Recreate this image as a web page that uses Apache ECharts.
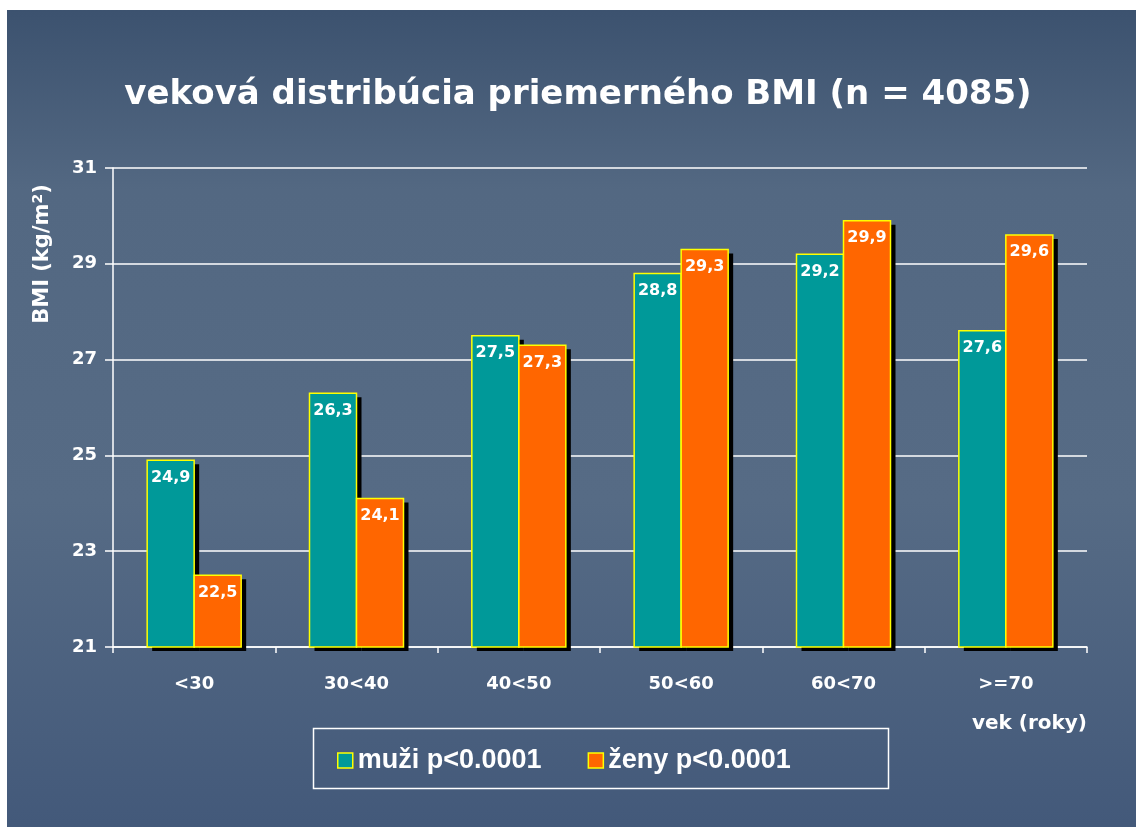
<!DOCTYPE html>
<html>
<head>
<meta charset="utf-8">
<script src="https://cdn.jsdelivr.net/npm/echarts@6/dist/echarts.min.js"></script>
<style>
  html, body { margin: 0; padding: 0; background: #ffffff; }
  #chart { position: absolute; left: 7px; top: 10px; width: 1129px; height: 817px; }
</style>
</head>
<body>
<div id="chart"></div>
<script>
// Age groups and mean BMI per sex
const categories = ['<30', '30<40', '40<50', '50<60', '60<70', '>=70'];
const muzi = [24.9, 26.3, 27.5, 28.8, 29.2, 27.6];
const zeny = [22.5, 24.1, 27.3, 29.3, 29.9, 29.6];
const yTicks = { min: 21, max: 31, interval: 2 };
const seriesNames = ['muži p<0.0001', 'ženy p<0.0001'];

const WIDE = '"DejaVu Sans", Verdana, sans-serif';
const ARIAL = '"Liberation Sans", Arial, sans-serif';
const BAR_W = 47;
const chart = echarts.init(document.getElementById('chart'), null, { renderer: 'canvas' });

const comma = v => v.toFixed(1).replace('.', ',');

// Bar with a hard black drop shadow and a yellow outline; the shadow is
// drawn as its own rect so the outline stays clean.
function barSeries(name, data, color, slot) {
  return {
    name: name,
    type: 'custom',
    data: data.map((v, i) => [i, v]),
    itemStyle: { color: color, borderColor: '#ffff00', borderWidth: 1.5 },
    encode: { x: 0, y: 1 },
    renderItem: function (params, api) {
      const idx = api.value(0);
      const val = api.value(1);
      const top = api.coord([idx, val]);
      const base = api.coord([idx, yTicks.min]);
      const x = top[0] + (slot === 0 ? -BAR_W : 0);
      const h = base[1] - top[1];
      return {
        type: 'group',
        children: [
          {
            type: 'rect',
            shape: { x: x + 5, y: top[1] + 4, width: BAR_W, height: h },
            style: { fill: '#000000' }
          },
          {
            type: 'rect',
            shape: { x: x, y: top[1], width: BAR_W, height: h },
            style: { fill: color, stroke: '#ffff00', lineWidth: 1.5 },
            textContent: {
              style: {
                text: comma(val),
                fill: '#ffffff',
                fontFamily: WIDE,
                fontWeight: 'bold',
                fontSize: 16
              }
            },
            textConfig: { position: 'insideTop', distance: 10 }
          }
        ]
      };
    }
  };
}

chart.setOption({
  animation: false,
  backgroundColor: {
    type: 'linear', x: 0, y: 0, x2: 0, y2: 1,
    colorStops: [
      { offset: 0, color: '#3c526f' },
      { offset: 0.22, color: '#536882' },
      { offset: 0.6, color: '#566b85' },
      { offset: 1, color: '#43597a' }
    ]
  },
  title: {
    text: 'veková distribúcia priemerného BMI (n = 4085)',
    left: 566,
    top: 63,
    textAlign: 'center',
    textStyle: {
      color: '#ffffff',
      fontFamily: WIDE,
      fontWeight: 'bold',
      fontSize: 34,
      textShadowColor: '#000000',
      textShadowOffsetX: 2,
      textShadowOffsetY: 2,
      textShadowBlur: 0
    }
  },
  grid: { left: 106, top: 158, width: 974, height: 479, containLabel: false },
  legend: {
    left: 325,
    top: 732,
    itemWidth: 15,
    itemHeight: 15,
    itemGap: 46,
    icon: 'rect',
    textStyle: { color: '#ffffff', fontFamily: ARIAL, fontWeight: 'bold', fontSize: 27 },
    itemStyle: { borderColor: '#ffff00', borderWidth: 1.5 },
    data: seriesNames
  },
  xAxis: {
    type: 'category',
    data: categories,
    axisLine: { lineStyle: { color: '#ffffff', width: 1.5 } },
    axisTick: { show: true, length: 6, lineStyle: { color: '#ffffff', width: 1.5 } },
    axisLabel: {
      color: '#ffffff', fontFamily: WIDE, fontWeight: 'bold', fontSize: 18, margin: 28
    }
  },
  yAxis: {
    type: 'value',
    min: yTicks.min,
    max: yTicks.max,
    interval: yTicks.interval,
    axisLine: { show: true, lineStyle: { color: '#ffffff', width: 1.5 } },
    axisTick: { show: true, length: 8, lineStyle: { color: '#ffffff', width: 1.5 } },
    splitLine: { lineStyle: { color: '#ffffff', width: 1.5 } },
    axisLabel: {
      color: '#ffffff', fontFamily: WIDE, fontWeight: 'bold', fontSize: 18, margin: 16
    }
  },
  graphic: [
    {
      type: 'rect',
      shape: { x: 306.5, y: 718.5, width: 575, height: 60 },
      style: { fill: 'none', stroke: '#ffffff', lineWidth: 1.5 },
      z: 0
    },
    {
      type: 'text',
      right: 49,
      top: 704,
      style: {
        text: 'vek (roky)',
        fill: '#ffffff',
        font: 'bold 20px ' + WIDE
      }
    },
    {
      type: 'text',
      x: 36,
      y: 244,
      rotation: Math.PI / 2,
      style: {
        text: '{m|BMI (kg/m}{s|2}{m|)}',
        align: 'center',
        verticalAlign: 'middle',
        rich: {
          m: { fontWeight: 'bold', fontSize: 21, fontFamily: WIDE, fill: '#ffffff' },
          s: { fontWeight: 'bold', fontSize: 14, fontFamily: WIDE, fill: '#ffffff', padding: [0, 0, 10, 0] }
        }
      }
    }
  ],
  series: [
    barSeries(seriesNames[0], muzi, '#009999', 0),
    barSeries(seriesNames[1], zeny, '#ff6600', 1)
  ]
});
</script>
</body>
</html>
